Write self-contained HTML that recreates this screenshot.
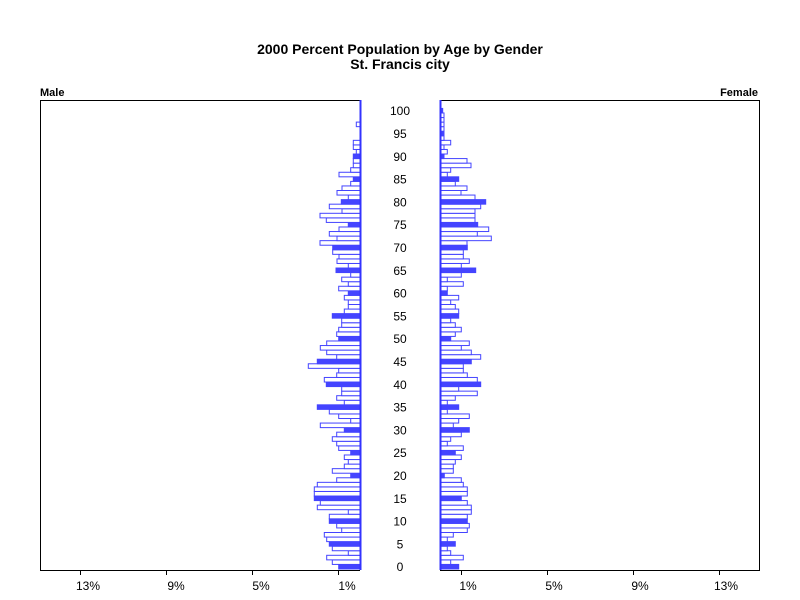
<!DOCTYPE html>
<html><head><meta charset="utf-8"><style>
body{margin:0;background:#fff;}
svg{display:block;font-family:"Liberation Sans",Arial,sans-serif;}
</style></head><body>
<svg id="s" width="800" height="600" xmlns="http://www.w3.org/2000/svg">
<rect width="800" height="600" fill="#fff"/>
<text x="400" y="54" font-size="14" font-weight="bold" text-anchor="middle">2000 Percent Population by Age by Gender</text>
<text x="400" y="69" font-size="14" font-weight="bold" text-anchor="middle">St. Francis city</text>
<text x="40" y="96" font-size="11" font-weight="bold">Male</text>
<text x="758" y="96" font-size="11" font-weight="bold" text-anchor="end">Female</text>
<g id="bars"></g>
<g stroke="#000" fill="none" stroke-width="1">
<path d="M40.5,570 V100.5 H360"/>
<path d="M440,100.5 H759.5 V570"/>
<path d="M40,570.5 H360 M440,570.5 H760"/>
<path d="M80.5,570 v5 M166.5,570 v5 M252.5,570 v5 M338.5,570 v5"/>
<path d="M461.5,570 v5 M547.5,570 v5 M633.5,570 v5 M719.5,570 v5"/>
</g>
<path d="M360.5,100 V570 M440.5,100 V570" stroke="#3333ff" stroke-width="2"/>
<g font-size="12" text-anchor="middle" id="lab">
<text x="88" y="590">13%</text><text x="176" y="590">9%</text><text x="261" y="590">5%</text><text x="347" y="590">1%</text>
<text x="468" y="590">1%</text><text x="554" y="590">5%</text><text x="640" y="590">9%</text><text x="726" y="590">13%</text>
</g>
<g id="ages" font-size="12" text-anchor="middle"></g>
</svg>
<script>
var L=[21.3,27.7,33.3,11.7,27.7,30.7,33.3,35.7,18.3,23.3,30.7,30.7,11.7,42.7,39.7,45.7,45.7,45.7,42.7,23.3,9.3,27.7,15.7,11.7,15.7,9.3,21.3,23.3,27.7,23.3,15.7,39.7,9.3,21.3,30.7,42.7,15.7,23.3,18.3,18.3,33.7,35.7,23.3,21.3,51.7,42.7,23.3,33.3,39.7,33.3,21.3,23.3,21.3,18.3,18.3,27.7,15.7,11.7,11.7,15.7,11.7,21.3,11.7,18.3,9.3,24,11.7,23,21,27.3,27.3,40,23,30.7,21,11.7,33.7,40,18,30.7,18.7,11.7,23,18,9.3,6.7,21,9.3,6.7,6.7,6.7,3.7,6.7,6.7,0,0,0,3.7,0,0,0];
var R=[18.7,10.7,23.3,10.7,7.3,15.3,7.3,13.3,27.3,29.3,27.3,27.3,31.3,31.3,27.3,21.3,27.3,27.3,23.3,21.3,4.3,13.3,13.3,15.3,21.3,15.3,23.3,7.3,10.7,21.3,29.3,13.3,18.7,29.3,7.3,18.7,7.3,15.3,37.3,18.7,40.7,37.3,27.3,23.3,23.3,31.3,40.7,31.3,21.3,29.3,10.7,15.3,21.3,15.3,10.7,18.7,18.7,15.3,10.7,18.7,7.3,7.3,23.3,7.3,21.3,35.7,21.3,29.3,23.3,23.3,27.3,27,51.3,37.3,48.7,37.7,35,35,35,40.7,45.7,35,21,27,15.3,18.7,7.3,10.7,31,27,4,7.3,4,10.7,4,4,4,4,4,4,2.7];
var g=document.getElementById('bars'),ag=document.getElementById('ages'),h='',a='';
for(var i=0;i<=100;i++){
 var yc=566.7-i*4.56,y=(yc-2.28).toFixed(2),f=(i%5==0);
 var fill=f?'#4444ff':'#fff';
 if(L[i]>0)h+='<rect x="'+(360-L[i]).toFixed(1)+'" y="'+y+'" width="'+L[i]+'" height="4.56" fill="'+fill+'" stroke="#4444ff" stroke-width="1"/>';
 if(R[i]>0)h+='<rect x="440" y="'+y+'" width="'+R[i]+'" height="4.56" fill="'+fill+'" stroke="#4444ff" stroke-width="1"/>';
 if(f)a+='<text x="400" y="'+(yc+4.5).toFixed(1)+'">'+i+'</text>';
}
g.innerHTML=h;ag.innerHTML=a;
</script>
</body></html>
